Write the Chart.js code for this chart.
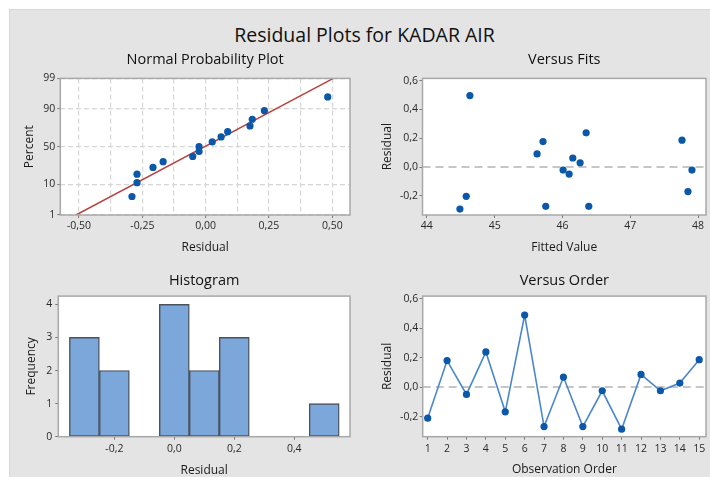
<!DOCTYPE html>
<html>
<head>
<meta charset="utf-8">
<script src="https://cdn.jsdelivr.net/npm/chart.js@4.4.0/dist/chart.umd.min.js"></script>
<style>
  html, body { margin: 0; padding: 0; background: #fff; }
  #page { position: relative; width: 710px; height: 477px; overflow: hidden; }
  #fond { position: absolute; left: 9px; top: 9px; right: 0; bottom: 0; background: #e4e4e4; border-left: 1px solid #d8d8d8; border-top: 1px solid #d8d8d8; }
  #titre { position: absolute; left: 19px; width: 691px; top: 23px; text-align: center; font: 19.5px/24px "Open Sans", sans-serif; color: #111; }
  canvas { position: absolute; left: 0; top: 0; width: 710px; height: 477px; }
</style>
</head>
<body>
<div id="page">
  <div id="fond"></div>
  <div id="titre">Residual Plots for KADAR AIR</div>
  <canvas id="normale" width="710" height="477"></canvas>
  <canvas id="ajustes" width="710" height="477"></canvas>
  <canvas id="histo" width="710" height="477"></canvas>
  <canvas id="ordre" width="710" height="477"></canvas>
</div>
<script>
// Données
// Versus Order : résidus dans l'ordre d'observation
const ordreObs = [1, 2, 3, 4, 5, 6, 7, 8, 9, 10, 11, 12, 13, 14, 15];
const residusOrdre = [-0.211, 0.18, -0.05, 0.239, -0.168, 0.489, -0.268, 0.068, -0.268, -0.025, -0.286, 0.086, -0.025, 0.027, 0.186];

// Versus Fits : valeurs ajustées et résidus
const valeursAjustees = [44.488, 44.581, 44.635, 45.626, 45.714, 45.754, 46.01, 46.099, 46.153, 46.261, 46.35, 46.389, 47.764, 47.852, 47.911];
const residusAjustes = [-0.292, -0.203, 0.497, 0.091, 0.177, -0.273, -0.021, -0.049, 0.063, 0.03, 0.238, -0.273, 0.187, -0.17, -0.021];

// Normal Probability Plot : résidus triés et pourcentages
const residusTries = [-0.291, -0.271, -0.271, -0.208, -0.168, -0.051, -0.026, -0.026, 0.026, 0.061, 0.087, 0.175, 0.184, 0.232, 0.482];
const pourcentages = [4.5, 11.0, 17.5, 24.0, 30.5, 37.0, 43.5, 50.0, 56.5, 63.0, 69.5, 76.0, 82.5, 89.0, 95.5];
// droite ajustée (extrémités)
const droiteX = [-0.512, 0.504];
const droiteP = [1, 99];

// Histogram : centres des classes et effectifs
const centresClasses = [-0.3, -0.2, -0.1, 0.0, 0.1, 0.2, 0.3, 0.4, 0.5];
const effectifs = [3, 2, 0, 4, 2, 3, 0, 0, 1];

// Graduations
const normGrilleX = [-0.5, -0.375, -0.25, -0.125, 0, 0.125, 0.25, 0.375, 0.5];
const normEtiquettesX = [-0.5, -0.25, 0, 0.25, 0.5];
const normPourcents = [1, 10, 50, 90, 99];
const ajustesTicksX = [44, 45, 46, 47, 48];
const residusTicksY = [-0.2, 0, 0.2, 0.4, 0.6];
const histoTicksX = [-0.2, 0, 0.2, 0.4];
const histoTicksY = [0, 1, 2, 3, 4];

const bleu = "#0b57a8";
const police = "'Open Sans', sans-serif";
Chart.defaults.font.family = police;
Chart.defaults.color = "#2a2a2a";

// Quantile de la loi normale (approximation d'Acklam) pour l'échelle de probabilité
function probit(p) {
  const a = [-39.69683028665376, 220.9460984245205, -275.9285104469687, 138.357751867269, -30.66479806614716, 2.506628277459239];
  const b = [-54.47609879822406, 161.5858368580409, -155.6989798598866, 66.80131188771972, -13.28068155288572];
  const c = [-0.007784894002430293, -0.3223964580411365, -2.400758277161838, -2.549732539343734, 4.374664141464968, 2.938163982698783];
  const d = [0.007784695709041462, 0.3224671290700398, 2.445134137142996, 3.754408661907416];
  const pl = 0.02425;
  if (p < pl) {
    const q = Math.sqrt(-2 * Math.log(p));
    return (((((c[0] * q + c[1]) * q + c[2]) * q + c[3]) * q + c[4]) * q + c[5]) / ((((d[0] * q + d[1]) * q + d[2]) * q + d[3]) * q + 1);
  }
  if (p > 1 - pl) {
    const q = Math.sqrt(-2 * Math.log(1 - p));
    return -(((((c[0] * q + c[1]) * q + c[2]) * q + c[3]) * q + c[4]) * q + c[5]) / ((((d[0] * q + d[1]) * q + d[2]) * q + d[3]) * q + 1);
  }
  const q = p - 0.5;
  const r = q * q;
  return (((((a[0] * r + a[1]) * r + a[2]) * r + a[3]) * r + a[4]) * r + a[5]) * q / (((((b[0] * r + b[1]) * r + b[2]) * r + b[3]) * r + b[4]) * r + 1);
}

function virgule(v, d) {
  return v.toFixed(d).replace(".", ",");
}

// Fond blanc et cadre gris de la zone de tracé
const cadre = {
  id: "cadre",
  beforeDraw(chart) {
    const { ctx, chartArea: a } = chart;
    ctx.save();
    ctx.fillStyle = "#fff";
    ctx.fillRect(a.left, a.top, a.width, a.height);
    ctx.restore();
  },
  afterDraw(chart) {
    const { ctx, chartArea: a } = chart;
    ctx.save();
    ctx.strokeStyle = "#a8a8a8";
    ctx.lineWidth = 1.5;
    ctx.strokeRect(a.left, a.top, a.width, a.height);
    ctx.restore();
  },
};

// Ligne de référence pointillée à résidu = 0
const ligneZero = {
  id: "ligneZero",
  beforeDatasetsDraw(chart) {
    const { ctx, chartArea: a, scales } = chart;
    const y = scales.y.getPixelForValue(0);
    ctx.save();
    ctx.strokeStyle = "#c6c6c6";
    ctx.lineWidth = 2;
    ctx.setLineDash([8, 5]);
    ctx.beginPath();
    ctx.moveTo(a.left, y);
    ctx.lineTo(a.right, y);
    ctx.stroke();
    ctx.restore();
  },
};

function titrePanneau(texte, haut, bas) {
  return {
    display: true,
    text: texte,
    fullSize: false,
    color: "#111",
    font: { size: 14.5, weight: "normal", lineHeight: 1.2 },
    padding: { top: haut, bottom: bas },
  };
}

function titreAxe(texte, pad) {
  return {
    display: true,
    text: texte,
    color: "#1a1a1a",
    font: { size: 12, lineHeight: 1 },
    padding: pad,
  };
}

function optionsBase(padding, titre) {
  return {
    responsive: false,
    animation: false,
    devicePixelRatio: 1,
    layout: { padding },
    plugins: {
      legend: { display: false },
      tooltip: { enabled: false },
      title: titre,
    },
  };
}

const policeTicks = { size: 10.5 };

// 1. Normal Probability Plot
const optNormale = optionsBase({ left: 20.3, top: 40, right: 360, bottom: 217 }, titrePanneau("Normal Probability Plot", 11.3, 9.7));
optNormale.scales = {
  x: {
    type: "linear",
    min: -0.574,
    max: 0.57,
    afterBuildTicks: (s) => { s.ticks = normGrilleX.map((v) => ({ value: v })); },
    afterFit: (s) => { s.height = 45; },
    ticks: {
      autoSkip: false, maxRotation: 0, padding: 2, font: policeTicks,
      callback: (v) => (normEtiquettesX.includes(v) ? virgule(v, 2) : ""),
    },
    grid: {
      color: "#d6d6d6", lineWidth: 1.2, tickLength: 3, tickWidth: 1,
      tickColor: (ctx) => (ctx.tick && normEtiquettesX.includes(ctx.tick.value) ? "#777" : "rgba(0,0,0,0)"),
    },
    border: { display: false, dash: [5, 3] },
    title: titreAxe("Residual", { top: 0, bottom: 6.3 }),
  },
  y: {
    type: "linear",
    min: probit(0.01),
    max: probit(0.99),
    afterBuildTicks: (s) => { s.ticks = normPourcents.map((p) => ({ value: probit(p / 100) })); },
    afterFit: (s) => { s.width = 40; },
    ticks: {
      autoSkip: false, padding: 2, font: policeTicks,
      callback: (v, i) => String(normPourcents[i]),
    },
    grid: { color: "#d6d6d6", lineWidth: 1.2, tickLength: 3, tickColor: "#777", tickWidth: 1 },
    border: { display: false, dash: [5, 3] },
    title: titreAxe("Percent", { top: 3.7, bottom: 0 }),
  },
};
new Chart(document.getElementById("normale"), {
  type: "scatter",
  data: {
    datasets: [
      {
        type: "line",
        data: droiteX.map((x, i) => ({ x, y: probit(droiteP[i] / 100) })),
        borderColor: "#b8423e",
        borderWidth: 1.5,
        pointRadius: 0,
        order: 2,
      },
      {
        data: residusTries.map((x, i) => ({ x, y: probit(pourcentages[i] / 100) })),
        backgroundColor: bleu,
        borderWidth: 0,
        pointRadius: 3.6,
        order: 1,
      },
    ],
  },
  options: optNormale,
  plugins: [cadre],
});

// Axes Y des résidus (Versus Fits et Versus Order)
function axeResidus(min, max) {
  return {
    type: "linear",
    min,
    max,
    afterBuildTicks: (s) => { s.ticks = residusTicksY.map((v) => ({ value: v })); },
    afterFit: (s) => { s.width = 45; },
    ticks: { autoSkip: false, padding: 1.5, font: policeTicks, callback: (v) => virgule(v, 1) },
    grid: { drawOnChartArea: false, tickLength: 3, tickColor: "#777", tickWidth: 1 },
    border: { display: false },
    title: titreAxe("Residual", { top: 3.7, bottom: 0 }),
  };
}

// 2. Versus Fits
const optAjustes = optionsBase({ left: 377.5, top: 40, right: 3, bottom: 217 }, titrePanneau("Versus Fits", 11.3, 9.7));
optAjustes.scales = {
  x: {
    type: "linear",
    min: 43.936,
    max: 48.118,
    afterBuildTicks: (s) => { s.ticks = ajustesTicksX.map((v) => ({ value: v })); },
    afterFit: (s) => { s.height = 45; },
    ticks: { autoSkip: false, maxRotation: 0, padding: 2, font: policeTicks, callback: (v) => String(v) },
    grid: { drawOnChartArea: false, tickLength: 3, tickColor: "#777", tickWidth: 1 },
    border: { display: false },
    title: titreAxe("Fitted Value", { top: 0, bottom: 6.3 }),
  },
  y: axeResidus(-0.333, 0.616),
};
new Chart(document.getElementById("ajustes"), {
  type: "scatter",
  data: {
    datasets: [
      {
        data: valeursAjustees.map((x, i) => ({ x, y: residusAjustes[i] })),
        backgroundColor: bleu,
        borderWidth: 0,
        pointRadius: 3.6,
      },
    ],
  },
  options: optAjustes,
  plugins: [cadre, ligneZero],
});

// 3. Histogram
const optHisto = optionsBase({ left: 20.3, top: 262, right: 360, bottom: 0 }, titrePanneau("Histogram", 9.7, 7));
optHisto.scales = {
  x: {
    type: "linear",
    min: -0.387,
    max: 0.586,
    afterBuildTicks: (s) => { s.ticks = histoTicksX.map((v) => ({ value: v })); },
    afterFit: (s) => { s.height = 40.3; },
    ticks: { autoSkip: false, maxRotation: 0, padding: 3, font: policeTicks, callback: (v) => virgule(v, 1) },
    grid: { drawOnChartArea: false, tickLength: 3, tickColor: "#777", tickWidth: 1, offset: false },
    border: { display: false },
    offset: false,
    title: titreAxe("Residual", { top: 0, bottom: 0 }),
  },
  y: {
    type: "linear",
    min: 0,
    max: 4.25,
    afterBuildTicks: (s) => { s.ticks = histoTicksY.map((v) => ({ value: v })); },
    afterFit: (s) => { s.width = 38; },
    ticks: { autoSkip: false, padding: 3, font: policeTicks, callback: (v) => String(v) },
    grid: { drawOnChartArea: false, tickLength: 3, tickColor: "#777", tickWidth: 1 },
    border: { display: false },
    title: titreAxe("Frequency", { top: 5.7, bottom: 0 }),
  },
};
new Chart(document.getElementById("histo"), {
  type: "bar",
  data: {
    datasets: [
      {
        data: centresClasses.map((x, i) => ({ x, y: effectifs[i] })),
        backgroundColor: "#7ca7da",
        borderColor: "#4a525c",
        borderWidth: 1.4,
        borderSkipped: false,
        barPercentage: 1,
        categoryPercentage: 1,
      },
    ],
  },
  options: optHisto,
  plugins: [cadre],
});

// 4. Versus Order
const optOrdre = optionsBase({ left: 377.7, top: 262, right: 3, bottom: 0 }, titrePanneau("Versus Order", 9.7, 7));
optOrdre.scales = {
  x: {
    type: "linear",
    min: 0.743,
    max: 15.35,
    afterBuildTicks: (s) => { s.ticks = ordreObs.map((v) => ({ value: v })); },
    afterFit: (s) => { s.height = 40.3; },
    ticks: { autoSkip: false, maxRotation: 0, padding: 3, font: policeTicks, callback: (v) => String(v) },
    grid: { drawOnChartArea: false, tickLength: 3, tickColor: "#777", tickWidth: 1 },
    border: { display: false },
    title: titreAxe("Observation Order", { top: 0, bottom: 1.7 }),
  },
  y: axeResidus(-0.337, 0.618),
};
new Chart(document.getElementById("ordre"), {
  type: "line",
  data: {
    datasets: [
      {
        data: ordreObs.map((x, i) => ({ x, y: residusOrdre[i] })),
        borderColor: "#4a86cc",
        borderWidth: 1.6,
        tension: 0,
        pointBackgroundColor: bleu,
        pointBorderWidth: 0,
        pointRadius: 3.6,
      },
    ],
  },
  options: optOrdre,
  plugins: [cadre, ligneZero],
});
</script>
</body>
</html>
